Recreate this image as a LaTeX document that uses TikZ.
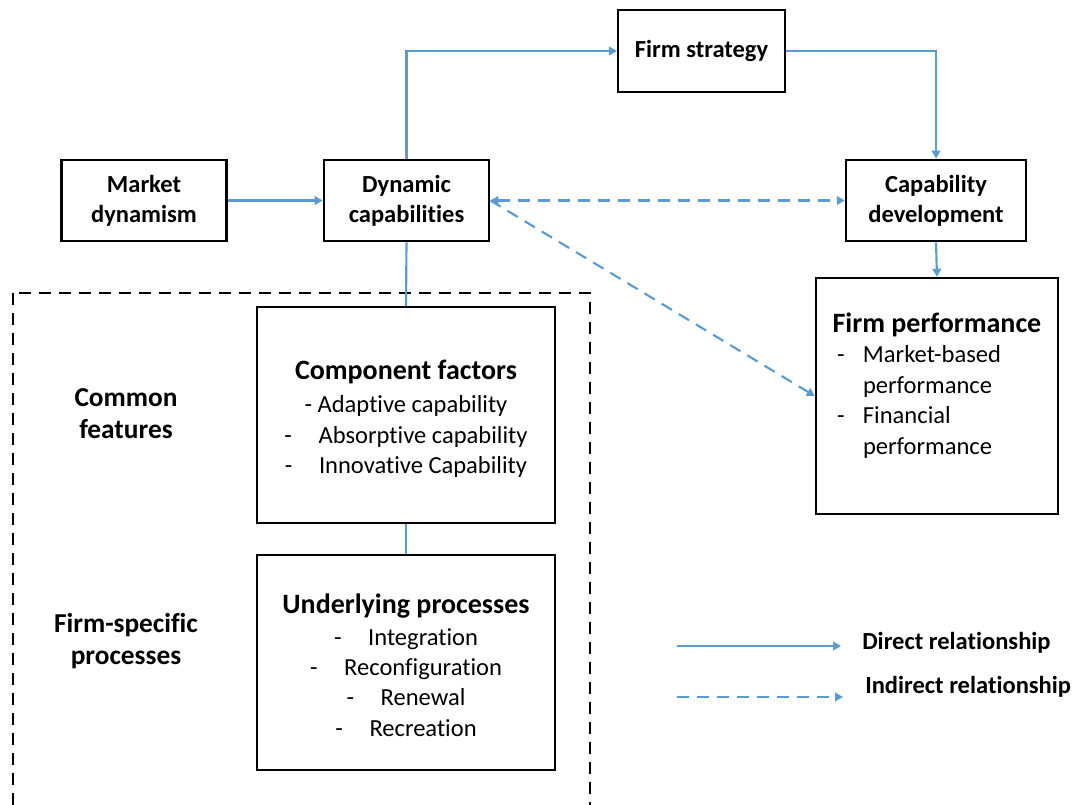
\documentclass[tikz,border=0pt]{standalone}
\usepackage{fontspec}
\setmainfont[Ligatures={NoCommon,NoRequired},Contextuals=NoAlternate]{Carlito}
\usepackage{xcolor}
\usetikzlibrary{arrows.meta}
\definecolor{linkblue}{RGB}{91,155,213}
\newcommand{\boxfont}{\fontsize{18.4}{22.5}\selectfont\bfseries}
\newcommand{\headfont}{\fontsize{21}{25}\selectfont\bfseries}
\newcommand{\itemfont}{\fontsize{18.4}{22.8}\selectfont}
\newcommand{\sidefont}{\fontsize{20.5}{24}\selectfont\bfseries}
% keep t and i apart (no ligature)
\newcommand{\tsep}{t\kern0pt }
\tikzset{
  box/.style={draw, line width=1.8pt, align=center, inner sep=0pt},
  link/.style={draw=linkblue, line width=1.6pt},
  tip/.style={-{Triangle[length=6pt,width=6.5pt]}},
  both/.style={{Triangle[length=6pt,width=6.5pt]}-{Triangle[length=6pt,width=6.5pt]}},
  indirect/.style={dash pattern=on 9pt off 6pt}
}

\begin{document}
\begin{tikzpicture}[x=0.75pt, y=-0.75pt]
\useasboundingbox (0,0) rectangle (1090,805);
\node at (144, 200.5) [box, minimum width=124pt, minimum height=61pt, font=\boxfont] (market) {Market\\dynamism};
\node at (406.5, 200.5) [box, minimum width=124pt, minimum height=61pt, font=\boxfont] (dynamic) {Dynamic\\capabili\tsep ies};
\node at (701.5, 51) [box, minimum width=125pt, minimum height=61.5pt, font=\boxfont] (strategy) {Firm strategy};
\node at (936, 200.5) [box, minimum width=135pt, minimum height=61pt, font=\boxfont] (develop) {Capability\\development};
\node at (937, 396) [box, minimum width=181.5pt, minimum height=177pt] (perf) {};
\node at (937, 388) [align=left, inner sep=0pt, font=\itemfont] (perftext) {%
  \makebox[150pt][c]{\headfont Firm performance}\\[2.5pt]
  \def\arraystretch{1.0}%
  \begin{tabular}{@{}p{19.5pt}@{}l@{}}
  - & Market-based\\ & performance\\ - & Financial\\ & performance
  \end{tabular}};
\node at (406, 415) [box, minimum width=223.5pt, minimum height=162pt] (component) {};
\node at (406, 419) [align=center, inner sep=0pt, font=\itemfont] (comptext) {%
  {\headfont Component factors}\\[2pt]
  - Adap\tsep ive capability\\
  -\hspace{20pt}Absorp\tsep ive capability\\
  -\hspace{20pt}Innova\tsep ive Capability};
\node at (406, 662.5) [box, minimum width=223.5pt, minimum height=161pt] (process) {};
\node at (406, 665) [align=center, inner sep=0pt, font=\itemfont] (proctext) {%
  {\headfont Underlying processes}\\[1pt]
  -\hspace{20pt}Integra\tsep ion\\
  -\hspace{20pt}Reconfigura\tsep ion\\
  -\hspace{20pt}Renewal\\
  -\hspace{20pt}Recrea\tsep ion};
\node at (126, 414) [align=center, font=\sidefont] (common) {Common\\features};
\node at (126, 641) [align=center, font=\sidefont] (specific) {Firm-specific\\processes};
\draw [black, line width=1.5pt, dash pattern=on 9pt off 6pt] (13, 293) rectangle (590, 815);
% connectors
\draw [link, tip] (market) to (dynamic);
\draw [link, tip] (dynamic.north) |- (strategy.west);
\draw [link, tip] (strategy.east) -| (develop.north);
\draw [link, tip] (develop.south) to (perf.north);
\draw [link] (dynamic.south) to (component.north);
\draw [link] (component.south) to (process.north);
\draw [link, indirect, both] (dynamic.east) to (develop.west);
\draw [link, indirect, tip] (dynamic.east) to (perf.west);
% legend
\coordinate (d1) at (677, 646);
\coordinate (d2) at (841, 646);
\coordinate (i1) at (677, 697);
\coordinate (i2) at (843, 697);
\draw [link, line width=1.3pt, tip] (d1) to (d2);
\draw [link, line width=1.3pt, indirect, tip] (i1) to (i2);
\node at (862, 643) [anchor=west, inner sep=0pt, font=\boxfont] (directlbl) {Direct rela\tsep ionship};
\node at (865, 687) [anchor=west, inner sep=0pt, font=\boxfont] (indirectlbl) {Indirect rela\tsep ionship};
\end{tikzpicture}
\end{document}
